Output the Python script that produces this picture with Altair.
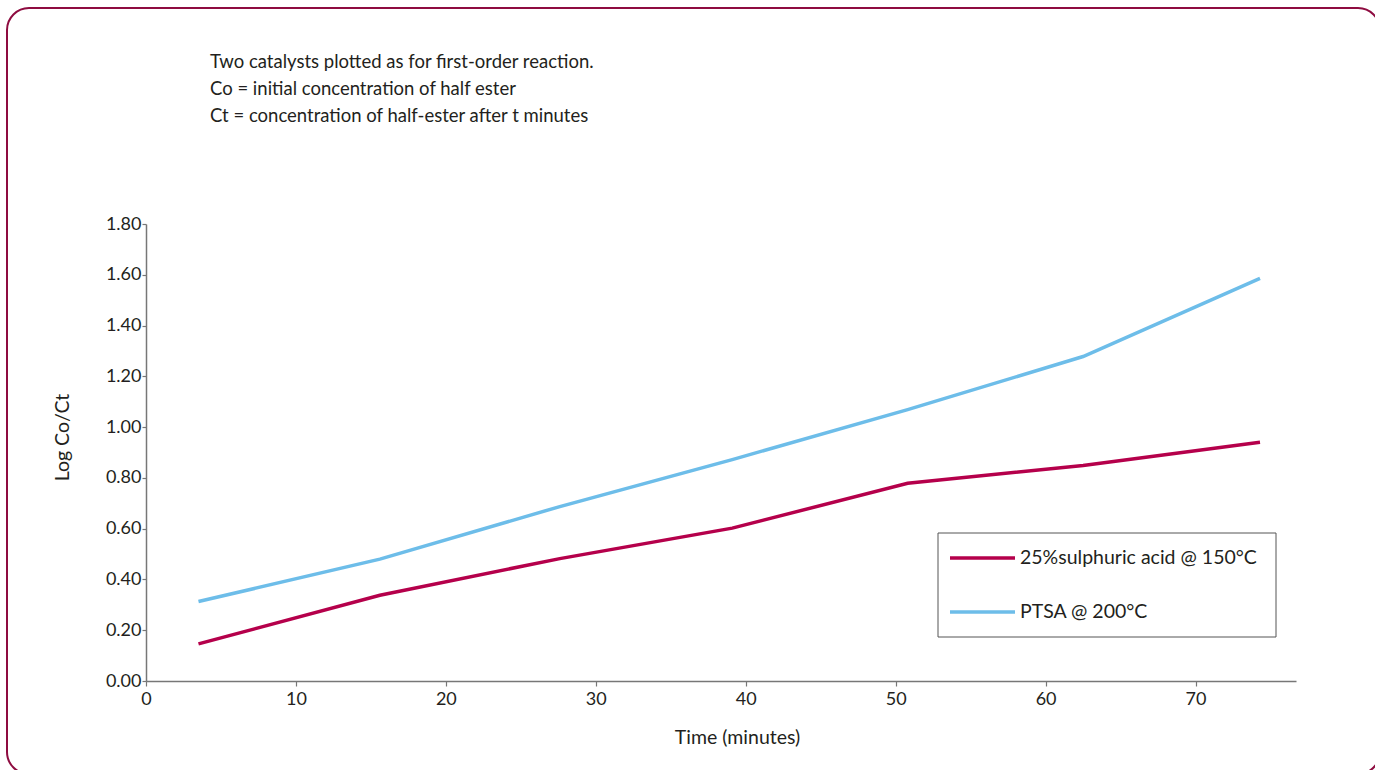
import altair as alt
import pandas as pd

# Reaction data: log(Co/Ct) against time for two catalysts
times = [3.5, 15.6, 27.6, 39.1, 50.8, 62.5, 74.3]
sulphuric = [0.146, 0.338, 0.482, 0.602, 0.779, 0.849, 0.940]
ptsa = [0.313, 0.480, 0.687, 0.872, 1.069, 1.278, 1.586]

series_names = ["25%sulphuric acid @ 150°C", "PTSA @ 200°C"]
series_colors = ["#b5004b", "#6dbde9"]

x_ticks = [0, 10, 20, 30, 40, 50, 60, 70]
y_ticks = [0.0, 0.2, 0.4, 0.6, 0.8, 1.0, 1.2, 1.4, 1.6, 1.8]

notes = [
    "Two catalysts plotted as for first-order reaction.",
    "Co = initial concentration of half ester",
    "Ct = concentration of half-ester after t minutes",
]

FONT = "Lato"
TEXT = "#231f20"
AXIS = "#777777"

rows = []
for name, vals in zip(series_names, [sulphuric, ptsa]):
    for t, v in zip(times, vals):
        rows.append({"time": t, "value": v, "series": name})
df = pd.DataFrame(rows)

color_scale = alt.Scale(domain=series_names, range=series_colors)

# Rounded border around the whole figure (outline only)
frame = alt.Chart(alt.Data(values=[{}])).mark_rect(
    fillOpacity=0, stroke="#8e0c40", strokeWidth=2, cornerRadius=22
).encode(
    x=alt.value(-139), x2=alt.value(1234),
    y=alt.value(-216), y2=alt.value(550),
)

lines = alt.Chart(df).mark_line(strokeWidth=3.5).encode(
    x=alt.X(
        "time:Q",
        scale=alt.Scale(domain=[0, 76.7], nice=False, zero=False),
        axis=alt.Axis(
            values=x_ticks, format="d", title="Time (minutes)",
            grid=False, domainColor=AXIS, domainWidth=1.5,
            tickColor=AXIS, tickSize=5, tickWidth=1.2,
            labelFont=FONT, labelFontSize=18, labelColor=TEXT, labelPadding=4,
            labelFlush=False, labelOverlap=False,
            titleFont=FONT, titleFontSize=19.5, titleFontWeight="normal",
            titleColor=TEXT, titleX=591, titleY=62, titleAlign="center",
            titleBaseline="alphabetic",
        ),
    ),
    y=alt.Y(
        "value:Q",
        scale=alt.Scale(domain=[0, 1.8], nice=False),
        axis=alt.Axis(
            values=y_ticks, format=".2f", title="Log Co/Ct",
            grid=False, domainColor=AXIS, domainWidth=1.5,
            tickColor=AXIS, tickSize=4, tickWidth=1.2,
            labelFont=FONT, labelFontSize=18, labelColor=TEXT, labelPadding=1,
            labelFlush=False, labelOverlap=False,
            titleFont=FONT, titleFontSize=19.5, titleFontWeight="normal",
            titleColor=TEXT, titleAngle=-90, titleX=-78, titleY=213,
            titleAlign="center", titleBaseline="alphabetic",
        ),
    ),
    color=alt.Color("series:N", scale=color_scale, legend=None),
    detail="series:N",
)

# Legend box drawn beside the lines
legend_box = alt.Chart(alt.Data(values=[{}])).mark_rect(
    fill="white", stroke="#555555", strokeWidth=1
).encode(
    x=alt.value(792), x2=alt.value(1130),
    y=alt.value(309), y2=alt.value(413),
)

legend_layers = []
for i, name in enumerate(series_names):
    entry = pd.DataFrame({"series": [name]})
    ypos = 334 + 54 * i
    legend_layers.append(
        alt.Chart(entry).mark_rule(strokeWidth=3.5).encode(
            x=alt.value(804), x2=alt.value(869), y=alt.value(ypos),
            color=alt.Color("series:N", scale=color_scale, legend=None),
        )
    )
    legend_layers.append(
        alt.Chart(entry).mark_text(
            align="left", baseline="middle", font=FONT, fontSize=19.5, color=TEXT
        ).encode(
            x=alt.value(874), y=alt.value(ypos), text="series:N",
        )
    )

note_text = alt.Chart(alt.Data(values=[{}])).mark_text(
    text=notes, align="left", baseline="alphabetic", lineHeight=27,
    font=FONT, fontSize=18.5, color=TEXT,
).encode(x=alt.value(64), y=alt.value(-156.5))

chart = alt.layer(
    frame, lines, legend_box, *legend_layers, note_text
).properties(
    width=1150, height=457,
    background="white",
    padding={"left": 146, "top": 224, "right": 79, "bottom": 89},
    autosize=alt.AutoSizeParams(type="none"),
).configure_view(strokeWidth=0, stroke="transparent")

chart.save("out.html", embed_options={"renderer": "svg", "actions": False})
